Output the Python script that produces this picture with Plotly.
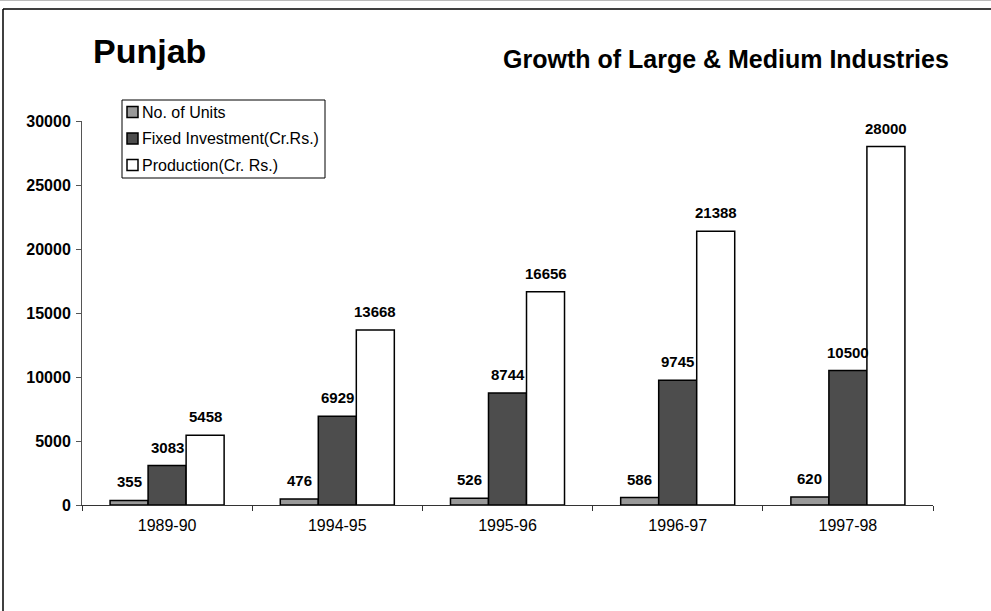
import plotly.graph_objects as go

categories = ["1989-90", "1994-95", "1995-96", "1996-97", "1997-98"]
units = [355, 476, 526, 586, 620]
investment = [3083, 6929, 8744, 9745, 10500]
production = [5458, 13668, 16656, 21388, 28000]
series_names = ["No. of Units", "Fixed Investment(Cr.Rs.)", "Production(Cr. Rs.)"]
y_ticks = [0, 5000, 10000, 15000, 20000, 25000, 30000]

W, H = 991, 611
XL, XR, YT, YB = 82, 933, 121, 505  # plot area in screen pixels
L, R, T, B = XL, W - XR, YT, H - YB


def px(x):
    return (x - XL) / (XR - XL)


def py(y):
    return (YB - y) / (YB - YT)


colors = ["#999999", "#4d4d4d", "#ffffff"]
all_vals = [units, investment, production]
BAR_W = 38

fig = go.Figure()
for name, vals, c in zip(series_names, all_vals, colors):
    fig.add_trace(go.Bar(
        x=categories, y=vals, name=name,
        marker=dict(color=c, line=dict(color="black", width=1.5)),
        showlegend=False,
    ))

annotations = []
for i, vals in enumerate(all_vals):
    for cat, v in zip(categories, vals):
        annotations.append(dict(
            x=cat, y=v, xref="x", yref="y", text=f"<b>{v}</b>",
            showarrow=False, xanchor="center", yanchor="bottom",
            xshift=(i - 1) * BAR_W, yshift=8,
            font=dict(family="Liberation Sans", size=15, color="black"),
        ))

annotations += [
    dict(text="<b>Punjab</b>", xref="paper", yref="paper", x=px(91), y=py(51),
         xanchor="left", yanchor="middle", showarrow=False,
         font=dict(family="Liberation Sans", size=34, color="black")),
    dict(text="<b>Growth of Large & Medium Industries</b>", xref="paper", yref="paper",
         x=px(951), y=py(59), xanchor="right", yanchor="middle", showarrow=False,
         font=dict(family="Liberation Sans", size=25, color="black")),
]

shapes = [
    dict(type="line", xref="paper", yref="paper", x0=px(3), x1=px(3), y0=py(9), y1=py(640),
         line=dict(color="black", width=1.5)),
    dict(type="line", xref="paper", yref="paper", x0=px(3), x1=px(1010), y0=py(9), y1=py(9),
         line=dict(color="black", width=1.5)),
    dict(type="line", xref="paper", yref="paper", x0=px(0), x1=px(1010), y0=py(0.5), y1=py(0.5),
         line=dict(color="#bbbbbb", width=1)),
    # legend box
    dict(type="rect", xref="paper", yref="paper", x0=px(122), x1=px(325), y0=py(100), y1=py(178),
         line=dict(color="black", width=1), fillcolor="white"),
]

legend_rows = [112, 138.5, 165]
for name, c, yc in zip(series_names, colors, legend_rows):
    shapes.append(dict(type="rect", xref="paper", yref="paper",
                       x0=px(127), x1=px(138), y0=py(yc + 5.5), y1=py(yc - 5.5),
                       line=dict(color="black", width=1.5), fillcolor=c))
    annotations.append(dict(text=name, xref="paper", yref="paper", x=px(140), y=py(yc),
                            xanchor="left", yanchor="middle", showarrow=False,
                            font=dict(family="Liberation Sans", size=16, color="black")))

fig.update_layout(
    width=W, height=H,
    margin=dict(l=L, r=R, t=T, b=B, pad=0),
    paper_bgcolor="white", plot_bgcolor="white",
    barmode="group", bargap=0.33, bargroupgap=0,
    font=dict(family="Liberation Sans", color="black"),
    showlegend=False,
    hovermode=False,
    xaxis=dict(
        showline=True, linecolor="#333333", linewidth=1,
        ticks="outside", tickson="boundaries", ticklen=5, tickcolor="#333333",
        tickfont=dict(family="Liberation Sans", size=16, color="black"),
        showgrid=False, zeroline=False, ticklabelstandoff=6,
    ),
    yaxis=dict(
        range=[0, 30000], tickvals=y_ticks, ticktext=[f"<b>{t}</b>" for t in y_ticks],
        showline=True, linecolor="#555555", linewidth=1,
        ticks="outside", ticklen=5, tickcolor="#555555",
        tickfont=dict(family="Liberation Sans", size=16, color="black"),
        showgrid=False, zeroline=False, ticklabelstandoff=2,
    ),
    annotations=annotations,
    shapes=shapes,
)

fig.write_html("out.html", config={"displayModeBar": False, "staticPlot": True},
               post_script="document.body.style.margin='0';document.body.style.overflow='hidden';")
